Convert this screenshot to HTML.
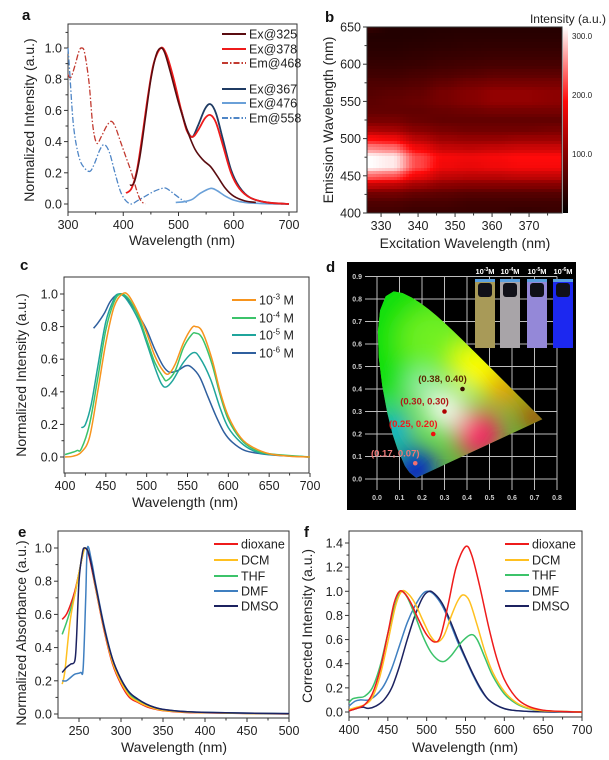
<!DOCTYPE html>
<html><head><meta charset="utf-8">
<style>
html,body{margin:0;padding:0;background:#fff;}
svg{display:block;font-family:"Liberation Sans",Arial,sans-serif;}
.tk{font-size:12.5px;fill:#222;}
.ti{font-size:14px;fill:#222;}
.pl{font-size:15px;font-weight:bold;fill:#111;}
.lg{font-size:12.5px;fill:#222;}
</style></head>
<body>
<svg id="fig" width="609" height="760" viewBox="0 0 609 760" xmlns="http://www.w3.org/2000/svg">
<defs>
<filter id="cblur" x="-50%" y="-50%" width="200%" height="200%"><feGaussianBlur stdDeviation="13"/></filter>
<clipPath id="bclip"><rect x="367" y="27" width="195" height="186"/></clipPath>
<linearGradient id="cbar" x1="0" y1="1" x2="0" y2="0">
<stop offset="0" stop-color="#000"/><stop offset="0.33" stop-color="#8c0000"/><stop offset="0.6" stop-color="#ff0a0a"/><stop offset="1" stop-color="#fff"/>
</linearGradient>
</defs>
<text class="pl" x="22" y="20">a</text>
<text class="pl" x="325" y="22">b</text>
<text class="pl" x="20" y="270">c</text>
<text class="pl" x="326" y="272">d</text>
<text class="pl" x="18" y="537">e</text>
<text class="pl" x="304" y="537">f</text>
<text class="ti" transform="translate(34,120) rotate(-90)" text-anchor="middle">Normalized Intensity (a.u.)</text>
<text class="ti" x="182" y="245" text-anchor="middle">Wavelength (nm)</text>
<text class="ti" transform="translate(333,120) rotate(-90)" text-anchor="middle">Emission Wavelength (nm)</text>
<text class="ti" x="465" y="248" text-anchor="middle">Excitation Wavelength (nm)</text>
<text x="606" y="23" text-anchor="end" style="font-size:12px;fill:#222">Intensity (a.u.)</text>
<text class="ti" transform="translate(26,375) rotate(-90)" text-anchor="middle">Normalized Intensity (a.u.)</text>
<text class="ti" x="185" y="507" text-anchor="middle">Wavelength (nm)</text>
<text class="ti" transform="translate(26,633) rotate(-90)" text-anchor="middle">Normalized Absorbance (a.u.)</text>
<text class="ti" x="174" y="752" text-anchor="middle">Wavelength (nm)</text>
<text class="ti" transform="translate(312,626) rotate(-90)" text-anchor="middle">Corrected Intensity (a.u.)</text>
<text class="ti" x="465" y="752" text-anchor="middle">Wavelength (nm)</text>
</svg>
<script>
// ---------- Panel a data ----------
const a325x=[412,420,430,440,450,460,468,475,485,500,515,530,545,558,570,585,600,620,640];
const a325y=[0.12,0.14,0.30,0.55,0.80,0.96,1.0,0.97,0.85,0.65,0.48,0.35,0.28,0.24,0.18,0.10,0.05,0.02,0.01];
const a378x=[405,415,425,435,445,455,468,478,490,505,515,525,535,548,558,568,580,595,610,630,660,700];
const a378y=[0.07,0.10,0.22,0.45,0.70,0.90,1.0,0.96,0.82,0.60,0.47,0.43,0.47,0.55,0.57,0.52,0.38,0.20,0.10,0.04,0.01,0];
const a367x=[505,515,525,535,548,558,568,580,595,610,630,660,700];
const a367y=[0.60,0.48,0.43,0.50,0.61,0.64,0.58,0.42,0.22,0.11,0.04,0.01,0];
const a468x=[300,305,312,320,325,330,338,345,352,360,370,378,385,395,405,415,425,432,440];
const a468y=[0.83,0.81,0.88,0.98,1.0,0.97,0.78,0.50,0.39,0.43,0.50,0.53,0.50,0.40,0.30,0.20,0.08,0.02,0];
const a476x=[495,510,525,540,558,570,585,600,620,650,700];
const a476y=[0.01,0.015,0.03,0.07,0.10,0.085,0.05,0.025,0.01,0.003,0];
const a558x=[300,303,310,320,330,340,348,358,366,375,385,395,405,415,425,440,455,470,478,490,505,515];
const a558y=[1.0,0.85,0.5,0.3,0.23,0.21,0.26,0.35,0.38,0.33,0.2,0.08,0.02,0,0.02,0.05,0.08,0.1,0.1,0.07,0.03,0.01];
const aXTicks=[300,400,500,600,700];
const aYTicks=[0,0.2,0.4,0.6,0.8,1.0];
// ---------- Panel b data ----------
const bEx=[326,333,340,347,354,361,368,378];
const bEm=[400,412.5,425,437.5,450,462.5,475,487.5,500,512.5,525,537.5,550,562.5,575,587.5,600,612.5,625,637.5,650];
const bInt=[
[45,45,40,40,40,40,35,40],
[55,55,50,50,45,45,45,45],
[80,80,70,65,60,60,60,60],
[140,135,115,100,95,95,95,95],
[230,220,170,140,135,135,140,140],
[300,290,210,170,165,170,175,175],
[300,290,210,175,170,175,180,180],
[240,230,170,140,135,140,145,145],
[180,170,130,110,105,105,110,110],
[120,115,95,85,80,80,80,85],
[85,85,75,70,70,70,70,70],
[70,70,70,75,80,85,85,85],
[65,70,75,85,95,105,105,100],
[60,65,70,85,95,105,105,100],
[55,55,60,70,80,85,85,85],
[45,45,50,55,60,65,65,65],
[38,38,40,45,48,50,50,50],
[32,32,35,38,40,42,42,42],
[28,28,30,32,34,35,35,35],
[25,25,26,28,30,30,30,30],
[40,25,24,25,26,26,26,26]];
const bXTicks=[330,340,350,360,370];
const bYTicks=[400,450,500,550,600,650];
const bBarTicks=[100,200,300];
// ---------- Panel c data ----------
const c3x=[400,410,420,430,440,450,460,470,478,490,500,510,520,527,535,545,555,560,568,580,590,600,615,630,650,675,700];
const c3y=[0,0.005,0.03,0.12,0.40,0.70,0.92,1.0,0.99,0.88,0.76,0.62,0.53,0.51,0.57,0.70,0.79,0.80,0.77,0.60,0.40,0.25,0.12,0.06,0.02,0.005,0];
const c4x=[400,410,415,420,430,440,450,460,468,478,490,500,510,520,525,535,545,555,560,568,580,590,600,615,630,650,700];
const c4y=[0.015,0.03,0.04,0.05,0.20,0.48,0.78,0.95,1.0,0.97,0.86,0.72,0.58,0.49,0.47,0.53,0.67,0.75,0.76,0.73,0.57,0.38,0.23,0.11,0.05,0.02,0];
const c5x=[420,425,432,440,450,460,466,475,490,500,510,518,524,532,545,557,565,578,590,600,615,630,650,700];
const c5y=[0.18,0.20,0.32,0.55,0.83,0.97,1.0,0.97,0.84,0.70,0.55,0.45,0.43,0.47,0.58,0.64,0.61,0.48,0.30,0.18,0.09,0.04,0.015,0];
const c6x=[435,440,448,455,462,470,478,490,500,510,520,528,538,548,555,565,575,585,595,605,620,640,660,700];
const c6y=[0.79,0.82,0.88,0.95,0.99,1.0,0.96,0.87,0.78,0.66,0.56,0.52,0.53,0.56,0.55,0.49,0.37,0.25,0.15,0.09,0.04,0.02,0.01,0];
const cXTicks=[400,450,500,550,600,650,700];
const cYTicks=[0,0.2,0.4,0.6,0.8,1.0];
// ---------- Panel d data ----------
const ciePtX=[0.38,0.30,0.25,0.17];
const ciePtY=[0.40,0.30,0.20,0.07];
const ciePtLabels=["(0.38, 0.40)","(0.30, 0.30)","(0.25, 0.20)","(0.17, 0.07)"];
const cieXTicks=[0,0.1,0.2,0.3,0.4,0.5,0.6,0.7,0.8];
const cieYTicks=[0,0.1,0.2,0.3,0.4,0.5,0.6,0.7,0.8,0.9];
const cuvLabels=["3","4","5","6"];
// ---------- Panel e data ----------
const eDioX=[230,235,240,245,250,254,257,262,270,280,290,300,310,320,330,340,350,375,400,450,500];
const eDioY=[0.57,0.60,0.66,0.74,0.85,0.95,1.0,0.95,0.75,0.50,0.30,0.18,0.10,0.07,0.045,0.03,0.02,0.01,0.007,0.003,0];
const eDcmX=[230,233,237,240,245,250,255,258,263,270,280,290,300,310,320,330,340,350,375,400,450,500];
const eDcmY=[0.18,0.25,0.45,0.58,0.72,0.85,0.97,1.0,0.95,0.76,0.51,0.31,0.19,0.11,0.075,0.05,0.033,0.022,0.012,0.008,0.004,0.001];
const eThfX=[230,235,240,245,250,255,258,263,270,280,290,300,310,320,330,340,350,375,400,450,500];
const eThfY=[0.48,0.55,0.63,0.72,0.85,0.97,1.0,0.95,0.76,0.52,0.32,0.2,0.12,0.08,0.055,0.037,0.025,0.013,0.009,0.004,0.001];
const eDmfX=[230,235,240,245,252,255,258,260,265,270,280,290,300,310,320,330,340,350,375,400,450,500];
const eDmfY=[0.2,0.2,0.22,0.24,0.25,0.28,0.7,1.0,0.92,0.78,0.53,0.33,0.21,0.13,0.09,0.06,0.04,0.028,0.015,0.01,0.005,0.002];
const eDmsoX=[230,235,240,245,247,250,254,257,262,270,280,290,300,310,320,330,340,350,375,400,450,500];
const eDmsoY=[0.25,0.28,0.30,0.32,0.45,0.80,0.97,1.0,0.96,0.77,0.52,0.33,0.21,0.13,0.09,0.06,0.04,0.028,0.015,0.01,0.005,0.002];
const eXTicks=[250,300,350,400,450,500];
const eYTicks=[0,0.2,0.4,0.6,0.8,1.0];
// ---------- Panel f data ----------
const fDioX=[400,410,420,430,440,450,458,465,472,480,490,500,510,518,528,538,550,558,568,580,590,600,615,630,650,680,700];
const fDioY=[0.01,0.03,0.06,0.15,0.35,0.65,0.90,1.0,0.98,0.90,0.76,0.64,0.58,0.63,0.90,1.20,1.37,1.30,1.05,0.70,0.45,0.27,0.12,0.05,0.015,0.003,0];
const fDcmX=[400,410,420,430,440,450,460,468,476,485,495,505,513,522,532,540,547,555,565,575,585,600,615,630,650,700];
const fDcmY=[0.02,0.04,0.06,0.12,0.30,0.58,0.88,1.0,0.98,0.90,0.76,0.63,0.58,0.63,0.80,0.92,0.97,0.92,0.72,0.50,0.33,0.17,0.08,0.035,0.01,0];
const fThfX=[400,405,412,420,430,440,450,460,467,475,485,495,505,515,523,532,545,557,565,575,585,600,615,630,650,700];
const fThfY=[0.08,0.11,0.12,0.13,0.20,0.38,0.65,0.90,1.0,0.95,0.80,0.63,0.50,0.43,0.42,0.47,0.58,0.64,0.60,0.45,0.30,0.15,0.07,0.03,0.01,0];
const fDmfX=[400,408,415,425,435,445,455,465,475,485,495,502,510,520,530,540,550,560,570,580,595,610,640,700];
const fDmfY=[0.05,0.09,0.10,0.10,0.14,0.22,0.36,0.55,0.74,0.88,0.98,1.0,0.97,0.88,0.74,0.58,0.44,0.30,0.18,0.10,0.04,0.015,0.003,0];
const fDmsoX=[400,410,418,425,435,445,455,465,475,485,495,503,510,520,530,540,550,560,570,580,595,610,640,700];
const fDmsoY=[0.01,0.03,0.04,0.03,0.05,0.10,0.20,0.38,0.60,0.80,0.95,1.0,0.98,0.90,0.76,0.60,0.45,0.31,0.19,0.10,0.04,0.015,0.003,0];
const fXTicks=[400,450,500,550,600,650,700];
const fYTicks=[0,0.2,0.4,0.6,0.8,1.0,1.2,1.4];

const NS="http://www.w3.org/2000/svg";
const svg=document.getElementById('fig');
function mk(tag,attrs,parent){const e=document.createElementNS(NS,tag);for(const k in attrs)e.setAttribute(k,attrs[k]);(parent||svg).appendChild(e);return e;}
function lin(d0,d1,r0,r1){return v=>r0+(v-d0)*(r1-r0)/(d1-d0);}
function smooth(pts){
  if(pts.length<2)return '';
  let d='M'+pts[0][0].toFixed(2)+','+pts[0][1].toFixed(2);
  for(let i=0;i<pts.length-1;i++){
    const p0=pts[i-1]||pts[i],p1=pts[i],p2=pts[i+1],p3=pts[i+2]||p2;
    const c1x=p1[0]+(p2[0]-p0[0])/6,c1y=p1[1]+(p2[1]-p0[1])/6;
    const c2x=p2[0]-(p3[0]-p1[0])/6,c2y=p2[1]-(p3[1]-p1[1])/6;
    d+=' C'+c1x.toFixed(2)+','+c1y.toFixed(2)+' '+c2x.toFixed(2)+','+c2y.toFixed(2)+' '+p2[0].toFixed(2)+','+p2[1].toFixed(2);
  }
  return d;
}
function fmt(v,dec){return v.toFixed(dec);}
function axes(id,box,sx,sy,xt,yt,xMinor,yMinor,yDec){
  const fr=mk('rect',{x:box.l,y:box.t,width:box.r-box.l,height:box.b-box.t,fill:'none',stroke:'#333','stroke-width':1});
  
  
  xt.forEach(v=>{
    const x=sx(v);
    const t=mk('line',{x1:x,x2:x,y1:box.b,y2:box.b+4,stroke:'#333'});
    
    
    const l=mk('text',{x:x,y:box.b+17,'text-anchor':'middle','class':'tk'});
    l.textContent=v;
    
    
  });
  xMinor.forEach(v=>{const x=sx(v);const t=mk('line',{x1:x,x2:x,y1:box.b,y2:box.b+2.5,stroke:'#333'});
    
    });
  yt.forEach(v=>{
    const y=sy(v);
    const t=mk('line',{x1:box.l-4,x2:box.l,y1:y,y2:y,stroke:'#333'});
    
    
    const l=mk('text',{x:box.l-6,y:y+4.5,'text-anchor':'end','class':'tk'});
    l.textContent=fmt(v,yDec);
    
    
  });
  yMinor.forEach(v=>{const y=sy(v);const t=mk('line',{x1:box.l-2.5,x2:box.l,y1:y,y2:y,stroke:'#333'});
    
    });
}
function curve(name,xs,ys,sx,sy,color,w,dash){
  const pts=xs.map((x,i)=>[sx(x),sy(ys[i])]);
  const a={d:smooth(pts),fill:'none',stroke:color,'stroke-width':w,'stroke-linejoin':'round'};
  if(dash)a['stroke-dasharray']=dash;
  const p=mk('path',a);
  
  
}
function legend(id,x,ys,labels,colors,dashes){
  labels.forEach((lab,i)=>{
    const a={x1:x,x2:x+24,y1:ys[i],y2:ys[i],stroke:colors[i],'stroke-width':2};
    if(dashes&&dashes[i])a['stroke-dasharray']=dashes[i];
    const ln=mk('line',a);
    
    
    const t=mk('text',{x:x+27,y:ys[i]+4.5,'class':'lg'});
    t.innerHTML=lab;
    
    
  });
}

// ===== Panel a =====
(function(){
  const box={l:68,t:24,r:297,b:212};
  const sx=lin(300,700,68,289), sy=lin(0,1,204,48);
  axes('panel-a',box,sx,sy,aXTicks,aYTicks,[350,450,550,650],[0.1,0.3,0.5,0.7,0.9,1.1],1);
  const dd='6,2,1.5,2';
  curve('em-468-curve',a468x,a468y,sx,sy,'#c23a30',1.3,dd);
  curve('em-558-curve',a558x,a558y,sx,sy,'#4f86c6',1.3,dd);
  curve('ex-476-curve',a476x,a476y,sx,sy,'#6aa0d8',1.6);
  curve('ex-367-curve',a367x,a367y,sx,sy,'#1f3b63',1.8);
  curve('ex-378-curve',a378x,a378y,sx,sy,'#ee1b1b',1.8);
  curve('ex-325-curve',a325x,a325y,sx,sy,'#5a0c10',1.6);
  legend('panel-a',222,[34,49,63,89,103,118],['Ex@325','Ex@378','Em@468','Ex@367','Ex@476','Em@558'],
    ['#5a0c10','#ee1b1b','#c23a30','#1f3b63','#6aa0d8','#4f86c6'],[null,null,dd,null,null,dd]);
})();

// ===== Panel b =====
function cmap(v){
  const st=[[0,[0,0,0]],[100,[140,0,0]],[180,[255,10,10]],[300,[255,255,255]]];
  v=Math.max(0,Math.min(300,v));
  for(let i=0;i<st.length-1;i++){
    if(v<=st[i+1][0]){const f=(v-st[i][0])/(st[i+1][0]-st[i][0]);
      const c=st[i][1].map((c0,k)=>Math.round(c0+(st[i+1][1][k]-c0)*f));
      return 'rgb('+c.join(',')+')';}
  }
  return '#fff';
}
function findSeg(arr,v){
  if(v<=arr[0])return [0,0];
  if(v>=arr[arr.length-1])return [arr.length-2,1];
  for(let i=0;i<arr.length-1;i++){if(v<=arr[i+1]){let f=(v-arr[i])/(arr[i+1]-arr[i]);f=f*f*(3-2*f);return [i,f];}}
}
(function(){
  const box={l:367,t:27,r:562,b:213};
  const sx=lin(326.2,378.9,367,562), sy=lin(400,650,213,27);
  const g=mk('g',{'clip-path':'url(#bclip)'});
  
  
  const step=3;
  for(let py=box.t;py<box.b;py+=step){
    const em=400+(box.b-(py+step/2))*(250/186);
    const [ri,rf]=findSeg(bEm,em);
    for(let px=box.l;px<box.r;px+=step){
      const ex=326.2+((px+step/2)-box.l)*(52.7/195);
      const [ci,cf]=findSeg(bEx,ex);
      const v00=bInt[ri][ci],v01=bInt[ri][ci+1],v10=bInt[ri+1][ci],v11=bInt[ri+1][ci+1];
      const v=(v00*(1-cf)+v01*cf)*(1-rf)+(v10*(1-cf)+v11*cf)*rf;
      const cell=mk('rect',{x:px,y:py,width:step+0.4,height:step+0.4,fill:cmap(v)},g);
      
      
    }
  }
  const cb=mk('rect',{x:563,y:27,width:5,height:186,fill:'url(#cbar)'});
  
  
  const cy=lin(0,300,213,36);
  bBarTicks.forEach(v=>{
    const t=mk('text',{x:572,y:cy(v)+3,style:'font-size:8px;fill:#222'});
    t.textContent=v.toFixed(1);
    
    
  });
  axes('panel-b',box,sx,sy,bXTicks,bYTicks,[335,345,355,365,375],[425,475,525,575,625],0);
})();

// ===== Panel c =====
(function(){
  const box={l:64,t:277,r:309,b:473};
  const sx=lin(400,700,65,310), sy=lin(0,1,457,294);
  axes('panel-c',box,sx,sy,cXTicks,cYTicks,[425,475,525,575,625,675],[0.1,0.3,0.5,0.7,0.9],1);
  curve('conc-1e-6-curve',c6x,c6y,sx,sy,'#2f5f9e',1.5);
  curve('conc-1e-5-curve',c5x,c5y,sx,sy,'#1fa59c',1.5);
  curve('conc-1e-4-curve',c4x,c4y,sx,sy,'#3cc36a',1.5);
  curve('conc-1e-3-curve',c3x,c3y,sx,sy,'#f7941d',1.5);
  legend('panel-c',232,[300,318,335,353],
    ['10<tspan dy="-5" font-size="8">-3</tspan><tspan dy="5"> M</tspan>','10<tspan dy="-5" font-size="8">-4</tspan><tspan dy="5"> M</tspan>','10<tspan dy="-5" font-size="8">-5</tspan><tspan dy="5"> M</tspan>','10<tspan dy="-5" font-size="8">-6</tspan><tspan dy="5"> M</tspan>'],
    ['#f7941d','#3cc36a','#1fa59c','#2f5f9e']);
})();

// ===== Panel d =====
(function(){
  const cx=lin(0,1,377,602), cy=lin(0,1,479,254);
  const bg=mk('rect',{x:347,y:262,width:229,height:248,fill:'#000'});
  
  
  cieXTicks.forEach(v=>{
    const l=mk('line',{x1:cx(v),x2:cx(v),y1:cy(0.9),y2:490,stroke:'#bdbdbd','stroke-width':1});
    
    
    const t=mk('text',{x:cx(v),y:500,'text-anchor':'middle',style:'font-size:7px;font-weight:bold;fill:#ccc'});
    t.textContent=v.toFixed(1);
    
    
  });
  cieYTicks.forEach(v=>{
    const l=mk('line',{x1:365,x2:cx(0.8),y1:cy(v),y2:cy(v),stroke:'#bdbdbd','stroke-width':1});
    
    
    const t=mk('text',{x:362,y:cy(v)+2.5,'text-anchor':'end',style:'font-size:7px;font-weight:bold;fill:#ccc'});
    t.textContent=v.toFixed(1);
    
    
  });
  const locus=[[0.1741,0.005],[0.144,0.0297],[0.1241,0.0578],[0.0913,0.1327],[0.0687,0.2007],[0.0454,0.295],[0.0235,0.4127],[0.0082,0.5384],[0.0039,0.6548],[0.0139,0.7502],[0.0389,0.812],[0.0743,0.8338],[0.1142,0.8262],[0.1547,0.8059],[0.1929,0.7816],[0.2296,0.7543],[0.2658,0.7243],[0.3016,0.6923],[0.3373,0.6589],[0.3731,0.6245],[0.4087,0.5896],[0.4441,0.5547],[0.4788,0.5202],[0.5125,0.4866],[0.5448,0.4544],[0.5752,0.4242],[0.6029,0.3965],[0.627,0.3725],[0.6482,0.3514],[0.6658,0.334],[0.6801,0.3197],[0.7347,0.2653]];
  const defs=svg.querySelector('defs');
  const cp=mk('clipPath',{id:'cieclip'},defs);
  mk('polygon',{points:locus.map(p=>cx(p[0])+','+cy(p[1])).join(' ')},cp);
  const g=mk('g',{'clip-path':'url(#cieclip)'});
  
  
  mk('rect',{x:370,y:270,width:200,height:220,fill:'#50d830'},g);
  const gb=mk('g',{filter:'url(#cblur)'},g);
  const blobs=[[0.05,0.65,0.3,'#10e010'],[0.25,0.62,0.15,'#70f020'],[0.45,0.5,0.12,'#ffff00'],[0.57,0.4,0.08,'#ff8c00'],[0.70,0.28,0.07,'#d00000'],[0.45,0.2,0.11,'#ff0868'],[0.17,0.04,0.1,'#0010d8'],[0.07,0.22,0.08,'#00a8ff'],[0.3,0.31,0.09,'#ffffff'],[0.2,0.42,0.06,'#a8f0c0']];
  blobs.forEach(b=>{mk('circle',{cx:cx(b[0]),cy:cy(b[1]),r:b[2]*225,fill:b[3]},gb);});
  const ptCols=['#3a1000','#b00000','#f01010','#f27070'];
  const lbCols=['#5a2a00','#b01818','#ee1c1c','#f07878'];
  ciePtX.forEach((x,i)=>{
    const c=mk('circle',{cx:cx(x),cy:cy(ciePtY[i]),r:2.3,fill:ptCols[i]});
    
    
    const t=mk('text',{x:cx(x)-20,y:cy(ciePtY[i])-7,'text-anchor':'middle',style:'font-size:9.5px;font-weight:bold;fill:'+lbCols[i]});
    t.textContent=ciePtLabels[i];
    
    
  });
  const cuvX=[475,500,527,553];
  const cuvFill=['#a89a58','#a8a4a8','#9488d8','#1c28f0'];
  cuvLabels.forEach((e,i)=>{
    const x=cuvX[i];
    const r=mk('rect',{x:x,y:279,width:20,height:69,fill:cuvFill[i]});
    
    
    mk('rect',{x:x,y:279,width:20,height:3,fill:'#5aa0e0'});
    mk('rect',{x:x+3,y:283,width:14,height:14,rx:3,fill:'#101018'});
    const t=mk('text',{x:x+10,y:274,'text-anchor':'middle',style:'font-size:7.5px;font-weight:bold;fill:#fff'});
    t.innerHTML='10<tspan dy="-3" font-size="5">-'+e+'</tspan><tspan dy="3">M</tspan>';
    
    
  });
})();

// ===== Panel e =====
(function(){
  const box={l:58,t:531,r:289,b:718};
  const sx=lin(225,500,58,289), sy=lin(0,1,714,548);
  axes('panel-e',box,sx,sy,eXTicks,eYTicks,[275,325,375,425,475],[0.1,0.3,0.5,0.7,0.9],1);
  curve('dioxane-abs-curve',eDioX,eDioY,sx,sy,'#ee1b1b',1.5);
  curve('thf-abs-curve',eThfX,eThfY,sx,sy,'#3cc36a',1.5);
  curve('dcm-abs-curve',eDcmX,eDcmY,sx,sy,'#ffc020',1.5);
  curve('dmf-abs-curve',eDmfX,eDmfY,sx,sy,'#3f7fc0',1.5);
  curve('dmso-abs-curve',eDmsoX,eDmsoY,sx,sy,'#1c2260',1.5);
  legend('panel-e',214,[544,560,576,591,606],['dioxane','DCM','THF','DMF','DMSO'],['#ee1b1b','#ffc020','#3cc36a','#3f7fc0','#1c2260']);
})();

// ===== Panel f =====
(function(){
  const box={l:349,t:531,r:582,b:717};
  const sx=lin(400,700,349,582), sy=lin(0,1.4,712,543);
  axes('panel-f',box,sx,sy,fXTicks,fYTicks,[425,475,525,575,625,675],[0.1,0.3,0.5,0.7,0.9,1.1,1.3],1);
  curve('dmf-pl-curve',fDmfX,fDmfY,sx,sy,'#3f7fc0',1.5);
  curve('dmso-pl-curve',fDmsoX,fDmsoY,sx,sy,'#1c2260',1.5);
  curve('thf-pl-curve',fThfX,fThfY,sx,sy,'#3cc36a',1.5);
  curve('dcm-pl-curve',fDcmX,fDcmY,sx,sy,'#ffc020',1.5);
  curve('dioxane-pl-curve',fDioX,fDioY,sx,sy,'#ee1b1b',1.5);
  legend('panel-f',505,[544,560,575,591,606],['dioxane','DCM','THF','DMF','DMSO'],['#ee1b1b','#ffc020','#3cc36a','#3f7fc0','#1c2260']);
})();
</script>
</body></html>
